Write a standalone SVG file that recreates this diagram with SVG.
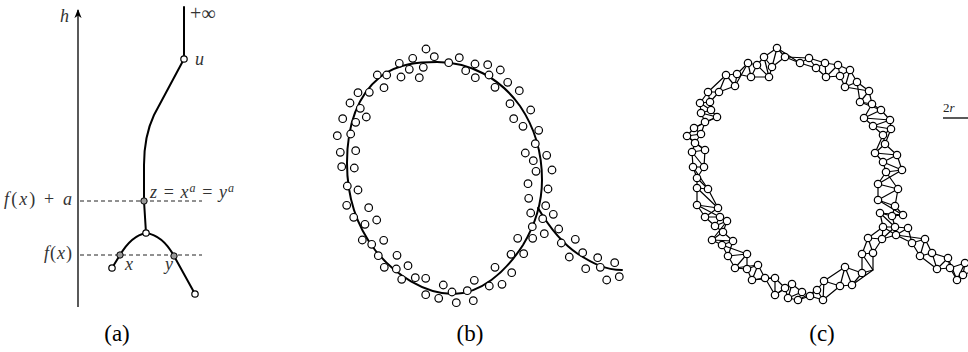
<svg xmlns="http://www.w3.org/2000/svg" width="968" height="352" viewBox="0 0 968 352">
<style>
.curve{fill:none;stroke:#000;stroke-width:2;stroke-linecap:round;stroke-linejoin:round}
.pt{fill:#fff;stroke:#000;stroke-width:1.2}
.gp{fill:#999;stroke:#000;stroke-width:1}
.edge{fill:none;stroke:#000;stroke-width:1.2;stroke-linejoin:round}
.lbl{font-size:18px;fill:#333}
.big{font-size:20px}
.it{font-style:italic}
.cap{font-size:23px;fill:#000}
.dash{stroke:#222;stroke-width:1;stroke-dasharray:4 3}
</style>
<defs>
<marker id="arr" viewBox="0 0 10 10" refX="9" refY="5" markerWidth="9" markerHeight="9" markerUnits="userSpaceOnUse" orient="auto">
<path d="M0,1 L10,5 L0,9 L3,5 Z" fill="#000"/>
</marker>
</defs>

<!-- (a) -->
<g id="fig-a">
<g id="a-connectors">
<line x1="78" y1="307" x2="78" y2="10" stroke="#000" stroke-width="1.3" marker-end="url(#arr)"/>
<line class="dash" x1="80" y1="201" x2="202" y2="201"/>
<line class="dash" x1="80" y1="255" x2="202" y2="255"/>
<path class="curve" d="M184,7 L184,59"/>
<path class="curve" d="M184,59 L154,115 C146,132 144,150 144,165 L144,201 L146,233"/>
<path class="curve" d="M146,233 C135,235 126,245 120,255 L112,268"/>
<path class="curve" d="M146,233 C160,235 168,245 174,256 L195,294"/>
</g>
<g id="a-u"><circle class="pt" cx="184" cy="59" r="3.2"/></g>
<g id="a-z"><circle class="gp" cx="144" cy="201" r="3.2"/></g>
<g id="a-m"><circle class="pt" cx="146" cy="233" r="3.2"/></g>
<g id="a-x"><circle class="gp" cx="120" cy="255" r="3.2"/></g>
<g id="a-y"><circle class="gp" cx="174" cy="256" r="3.2"/></g>
<g id="a-l1"><circle class="pt" cx="112" cy="268" r="3.2"/></g>
<g id="a-l2"><circle class="pt" cx="195" cy="294" r="3.2"/></g>
<g font-family="Liberation Serif, Times New Roman, serif">
<text class="lbl it" x="60" y="22">h</text>
<text class="lbl big" x="190" y="20">+∞</text>
<text class="lbl it" x="195" y="65">u</text>
<text class="lbl" x="72" y="205" text-anchor="end" textLength="68"><tspan class="it">f</tspan>(<tspan class="it">x</tspan>) + <tspan class="it">a</tspan></text>
<text class="lbl" x="72" y="259" text-anchor="end" textLength="28"><tspan class="it">f</tspan>(<tspan class="it">x</tspan>)</text>
<text class="lbl" x="150" y="198" textLength="84"><tspan class="it">z</tspan> = <tspan class="it">x</tspan><tspan class="it" dy="-6" font-size="12">a</tspan><tspan dy="6"> = </tspan><tspan class="it">y</tspan><tspan class="it" dy="-6" font-size="12">a</tspan></text>
<text class="lbl it" x="125" y="270">x</text>
<text class="lbl it" x="165" y="270">y</text>
</g>
</g>

<!-- (b) -->
<g id="fig-b">
<g id="b-connectors">
<path class="curve" d="M437,62 C470,62 500,78 520,106 C535,128 542,155 542,180 C542,205 535,225 523,245 C505,273 480,294 453,294 C425,294 395,275 375,250 C355,224 347,195 347,163 C347,125 358,95 380,77 C398,63 420,62 437,62 Z"/>
<path class="curve" d="M538,208 C548,225 560,242 578,254 C592,263 605,270 622,270"/>
</g>
<g id="b-points" class="pt">
<circle cx="426" cy="49" r="3.8"/><circle cx="434.3" cy="56.7" r="3.8"/><circle cx="412.7" cy="58.3" r="3.8"/><circle cx="459.3" cy="57.7" r="3.8"/>
<circle cx="399.3" cy="63.3" r="3.8"/><circle cx="448.7" cy="62.7" r="3.8"/><circle cx="475" cy="64" r="3.8"/><circle cx="487.7" cy="64.7" r="3.8"/>
<circle cx="409.3" cy="69.3" r="3.8"/><circle cx="423.3" cy="67.3" r="3.8"/><circle cx="465.7" cy="70.7" r="3.8"/><circle cx="500.3" cy="70" r="3.8"/>
<circle cx="377.3" cy="75" r="3.8"/><circle cx="386.7" cy="75" r="3.8"/><circle cx="401" cy="77" r="3.8"/><circle cx="419.3" cy="77.7" r="3.8"/>
<circle cx="475.3" cy="77.7" r="3.8"/><circle cx="489" cy="75" r="3.8"/><circle cx="507.7" cy="82.3" r="3.8"/><circle cx="495" cy="87.3" r="3.8"/>
<circle cx="384" cy="87.7" r="3.8"/><circle cx="519.3" cy="90.7" r="3.8"/><circle cx="358" cy="92.7" r="3.8"/><circle cx="369.3" cy="92.3" r="3.8"/>
<circle cx="350" cy="103" r="3.8"/><circle cx="510" cy="103.7" r="3.8"/><circle cx="360.3" cy="108.3" r="3.8"/><circle cx="530.7" cy="110" r="3.8"/>
<circle cx="342.7" cy="118.7" r="3.8"/><circle cx="366.3" cy="117" r="3.8"/><circle cx="355.7" cy="122.3" r="3.8"/><circle cx="513.7" cy="118.7" r="3.8"/>
<circle cx="523" cy="126.3" r="3.8"/><circle cx="538.7" cy="130.3" r="3.8"/><circle cx="337.3" cy="135.7" r="3.8"/><circle cx="350.7" cy="134" r="3.8"/>
<circle cx="535.3" cy="143.7" r="3.8"/><circle cx="340.3" cy="152.3" r="3.8"/><circle cx="355.7" cy="150.7" r="3.8"/><circle cx="525.3" cy="153" r="3.8"/>
<circle cx="546.7" cy="155.3" r="3.8"/><circle cx="533.3" cy="160.7" r="3.8"/><circle cx="341.7" cy="166.7" r="3.8"/><circle cx="354.3" cy="168" r="3.8"/>
<circle cx="536" cy="171.3" r="3.8"/><circle cx="552" cy="170" r="3.8"/><circle cx="528" cy="183.7" r="3.8"/><circle cx="347.3" cy="186" r="3.8"/>
<circle cx="358" cy="190" r="3.8"/><circle cx="548" cy="189" r="3.8"/><circle cx="528.7" cy="198.3" r="3.8"/><circle cx="346.7" cy="205.3" r="3.8"/>
<circle cx="368.7" cy="207.7" r="3.8"/><circle cx="545.7" cy="205.7" r="3.8"/><circle cx="530.7" cy="213" r="3.8"/><circle cx="353.7" cy="217.3" r="3.8"/>
<circle cx="376.7" cy="220" r="3.8"/><circle cx="553.3" cy="214.3" r="3.8"/><circle cx="542.7" cy="218.7" r="3.8"/><circle cx="365" cy="224.3" r="3.8"/>
<circle cx="532.3" cy="226.7" r="3.8"/><circle cx="558.7" cy="229" r="3.8"/><circle cx="544.3" cy="233.7" r="3.8"/><circle cx="517.7" cy="238.3" r="3.8"/>
<circle cx="532.7" cy="238.3" r="3.8"/><circle cx="362.3" cy="240" r="3.8"/><circle cx="383.7" cy="240.3" r="3.8"/><circle cx="575.3" cy="239.3" r="3.8"/>
<circle cx="561.3" cy="243" r="3.8"/><circle cx="371.7" cy="244.3" r="3.8"/><circle cx="523.7" cy="253.7" r="3.8"/><circle cx="511" cy="254.3" r="3.8"/>
<circle cx="582.7" cy="252.7" r="3.8"/><circle cx="378.3" cy="255.7" r="3.8"/><circle cx="397" cy="255.3" r="3.8"/><circle cx="569.3" cy="257" r="3.8"/>
<circle cx="597.7" cy="257.7" r="3.8"/><circle cx="384.3" cy="267.3" r="3.8"/><circle cx="396.3" cy="269" r="3.8"/><circle cx="408" cy="265.7" r="3.8"/>
<circle cx="495" cy="267.3" r="3.8"/><circle cx="511.7" cy="272.7" r="3.8"/><circle cx="585.7" cy="268.7" r="3.8"/><circle cx="600.3" cy="267.3" r="3.8"/>
<circle cx="614.7" cy="262.7" r="3.8"/><circle cx="401.7" cy="279.3" r="3.8"/><circle cx="415.3" cy="277.7" r="3.8"/><circle cx="425.7" cy="278.3" r="3.8"/>
<circle cx="474.3" cy="280.3" r="3.8"/><circle cx="489.3" cy="286" r="3.8"/><circle cx="502" cy="284.3" r="3.8"/><circle cx="606.7" cy="280" r="3.8"/>
<circle cx="619.3" cy="276.7" r="3.8"/><circle cx="443.3" cy="285" r="3.8"/><circle cx="452" cy="292" r="3.8"/><circle cx="467.3" cy="290.7" r="3.8"/>
<circle cx="425.7" cy="294.7" r="3.8"/><circle cx="438.7" cy="298.3" r="3.8"/><circle cx="456.3" cy="302.7" r="3.8"/><circle cx="473.3" cy="300.7" r="3.8"/>
</g>
</g>

<!-- (c) -->
<g id="fig-c">
<g id="c-connectors" class="edge">
<path d="M883,227 L895,227 L880,213 L892,216 L903,215 L895,206 L878,200 L898,189 L878,184 L886,172 L902,170 L883,162 L897,155 L875,153 L885,144 L883,135 L891,129 L873,126 L890,120 L864,118 L881,110 L872,104 L860,102 L869,91 L857,82 L845,87 L850,70 L840,76 L838,65 L826,77 L825,63 L816,68 L809,58 L800,63 L785,57 L777,48 L772,67 L764,57 L769,77 L757,65 L751,77 L748,63 L737,74 L735,86 L726,75 L719,92 L708,92 L710,102 L700,103 L711,110 L701,113 L717,117 L705,122 L694,128 L701,134 L687,136 L695,143 L705,150 L692,152 L704,167 L693,167 L697,178 L708,189 L697,188 L718,208 L697,205 L705,217 L720,217 L715,226 L727,221 L723,232 L712,240 L733,241 L722,245 L728,256 L747,254 L735,268 L747,269 L758,265 L752,280 L765,278 L775,278 L775,295 L785,288 L792,284 L788,298 L802,292 L798,300 L810,296 L817,290 L823,300 L824,281 L840,286 L845,267 L852,285 L862,273 L873,270 L862,254 L873,253 L868,238 L882,239 Z"/>
<path d="M883,227 L880,213 L903,215 L878,200 L878,184 L902,170 L897,155 L885,144 L891,129 L890,120 L881,110 L860,102 L857,82 L850,70 L838,65 L825,63 L809,58 L785,57 L772,67 L769,77 L751,77 L737,74 L726,75 L708,92 L700,103 L701,113 L705,122 L701,134 L695,143 L692,152 L693,167 L708,189 L718,208 L705,217 L715,226 L723,232 L733,241 L728,256 L735,268 L758,265 L765,278 L775,295 L792,284 L802,292 L810,296 L823,300 L840,286 L852,285 L873,270 L873,253 L882,239 L895,227"/>
<path d="M895,227 L892,216 L895,206 L898,189 L886,172 L883,162 L875,153 L883,135 L873,126 L864,118 L872,104 L869,91 L845,87 L840,76 L826,77 L816,68 L800,63 L777,48 L764,57 L757,65 L748,63 L735,86 L719,92 L710,102 L711,110 L717,117 L694,128 L687,136 L705,150 L704,167 L697,178 L697,188 L697,205 L720,217 L727,221 L712,240 L722,245 L747,254 L747,269 L752,280 L775,278 L785,288 L788,298 L798,300 L817,290 L824,281 L845,267 L862,273 L862,254 L868,238 L883,227"/>
<path d="M895,227 L908,228 L896,235 L912,243 L925,239 L920,256 L932,253 L937,269 L948,258 L950,268 L957,280 L965,263 L963,275 L975,270"/>
<path d="M895,227 L896,235 L925,239 L932,253 L948,258 L957,280 L963,275"/>
<path d="M908,228 L912,243 L920,256 L937,269 L950,268 L965,263 L975,270"/>
<path d="M882,239 L896,235 L883,227"/>
</g>
<g id="c-points" class="pt">
<circle cx="883" cy="227" r="3.7"/><circle cx="895" cy="227" r="3.7"/><circle cx="880" cy="213" r="3.7"/><circle cx="892" cy="216" r="3.7"/>
<circle cx="903" cy="215" r="3.7"/><circle cx="895" cy="206" r="3.7"/><circle cx="878" cy="200" r="3.7"/><circle cx="898" cy="189" r="3.7"/>
<circle cx="878" cy="184" r="3.7"/><circle cx="886" cy="172" r="3.7"/><circle cx="902" cy="170" r="3.7"/><circle cx="883" cy="162" r="3.7"/>
<circle cx="897" cy="155" r="3.7"/><circle cx="875" cy="153" r="3.7"/><circle cx="885" cy="144" r="3.7"/><circle cx="883" cy="135" r="3.7"/>
<circle cx="891" cy="129" r="3.7"/><circle cx="873" cy="126" r="3.7"/><circle cx="890" cy="120" r="3.7"/><circle cx="864" cy="118" r="3.7"/>
<circle cx="881" cy="110" r="3.7"/><circle cx="872" cy="104" r="3.7"/><circle cx="860" cy="102" r="3.7"/><circle cx="869" cy="91" r="3.7"/>
<circle cx="857" cy="82" r="3.7"/><circle cx="845" cy="87" r="3.7"/><circle cx="850" cy="70" r="3.7"/><circle cx="840" cy="76" r="3.7"/>
<circle cx="838" cy="65" r="3.7"/><circle cx="826" cy="77" r="3.7"/><circle cx="825" cy="63" r="3.7"/><circle cx="816" cy="68" r="3.7"/>
<circle cx="809" cy="58" r="3.7"/><circle cx="800" cy="63" r="3.7"/><circle cx="785" cy="57" r="3.7"/><circle cx="777" cy="48" r="3.7"/>
<circle cx="772" cy="67" r="3.7"/><circle cx="764" cy="57" r="3.7"/><circle cx="769" cy="77" r="3.7"/><circle cx="757" cy="65" r="3.7"/>
<circle cx="751" cy="77" r="3.7"/><circle cx="748" cy="63" r="3.7"/><circle cx="737" cy="74" r="3.7"/><circle cx="735" cy="86" r="3.7"/>
<circle cx="726" cy="75" r="3.7"/><circle cx="719" cy="92" r="3.7"/><circle cx="708" cy="92" r="3.7"/><circle cx="710" cy="102" r="3.7"/>
<circle cx="700" cy="103" r="3.7"/><circle cx="711" cy="110" r="3.7"/><circle cx="701" cy="113" r="3.7"/><circle cx="717" cy="117" r="3.7"/>
<circle cx="705" cy="122" r="3.7"/><circle cx="694" cy="128" r="3.7"/><circle cx="701" cy="134" r="3.7"/><circle cx="687" cy="136" r="3.7"/>
<circle cx="695" cy="143" r="3.7"/><circle cx="705" cy="150" r="3.7"/><circle cx="692" cy="152" r="3.7"/><circle cx="704" cy="167" r="3.7"/>
<circle cx="693" cy="167" r="3.7"/><circle cx="697" cy="178" r="3.7"/><circle cx="708" cy="189" r="3.7"/><circle cx="697" cy="188" r="3.7"/>
<circle cx="718" cy="208" r="3.7"/><circle cx="697" cy="205" r="3.7"/><circle cx="705" cy="217" r="3.7"/><circle cx="720" cy="217" r="3.7"/>
<circle cx="715" cy="226" r="3.7"/><circle cx="727" cy="221" r="3.7"/><circle cx="723" cy="232" r="3.7"/><circle cx="712" cy="240" r="3.7"/>
<circle cx="733" cy="241" r="3.7"/><circle cx="722" cy="245" r="3.7"/><circle cx="728" cy="256" r="3.7"/><circle cx="747" cy="254" r="3.7"/>
<circle cx="735" cy="268" r="3.7"/><circle cx="747" cy="269" r="3.7"/><circle cx="758" cy="265" r="3.7"/><circle cx="752" cy="280" r="3.7"/>
<circle cx="765" cy="278" r="3.7"/><circle cx="775" cy="278" r="3.7"/><circle cx="775" cy="295" r="3.7"/><circle cx="785" cy="288" r="3.7"/>
<circle cx="792" cy="284" r="3.7"/><circle cx="788" cy="298" r="3.7"/><circle cx="802" cy="292" r="3.7"/><circle cx="798" cy="300" r="3.7"/>
<circle cx="810" cy="296" r="3.7"/><circle cx="817" cy="290" r="3.7"/><circle cx="823" cy="300" r="3.7"/><circle cx="824" cy="281" r="3.7"/>
<circle cx="840" cy="286" r="3.7"/><circle cx="845" cy="267" r="3.7"/><circle cx="852" cy="285" r="3.7"/><circle cx="862" cy="273" r="3.7"/>
<circle cx="862" cy="254" r="3.7"/><circle cx="873" cy="253" r="3.7"/><circle cx="868" cy="238" r="3.7"/><circle cx="882" cy="239" r="3.7"/>
<circle cx="908" cy="228" r="3.7"/><circle cx="896" cy="235" r="3.7"/><circle cx="912" cy="243" r="3.7"/><circle cx="925" cy="239" r="3.7"/>
<circle cx="920" cy="256" r="3.7"/><circle cx="932" cy="253" r="3.7"/><circle cx="937" cy="269" r="3.7"/><circle cx="948" cy="258" r="3.7"/>
<circle cx="950" cy="268" r="3.7"/><circle cx="957" cy="280" r="3.7"/><circle cx="965" cy="263" r="3.7"/><circle cx="963" cy="275" r="3.7"/>
</g>
<g id="c-scale">
<line x1="943" y1="118" x2="968" y2="118" stroke="#000" stroke-width="1.3"/>
<text x="943" y="112" font-family="Liberation Serif, Times New Roman, serif" font-size="13" fill="#222">2<tspan font-style="italic">r</tspan></text>
</g>
</g>

<g id="captions" font-family="Liberation Serif, Times New Roman, serif">
<text class="cap" x="117" y="341" text-anchor="middle">(a)</text>
<text class="cap" x="470" y="341" text-anchor="middle">(b)</text>
<text class="cap" x="822" y="341" text-anchor="middle">(c)</text>
</g>
</svg>
